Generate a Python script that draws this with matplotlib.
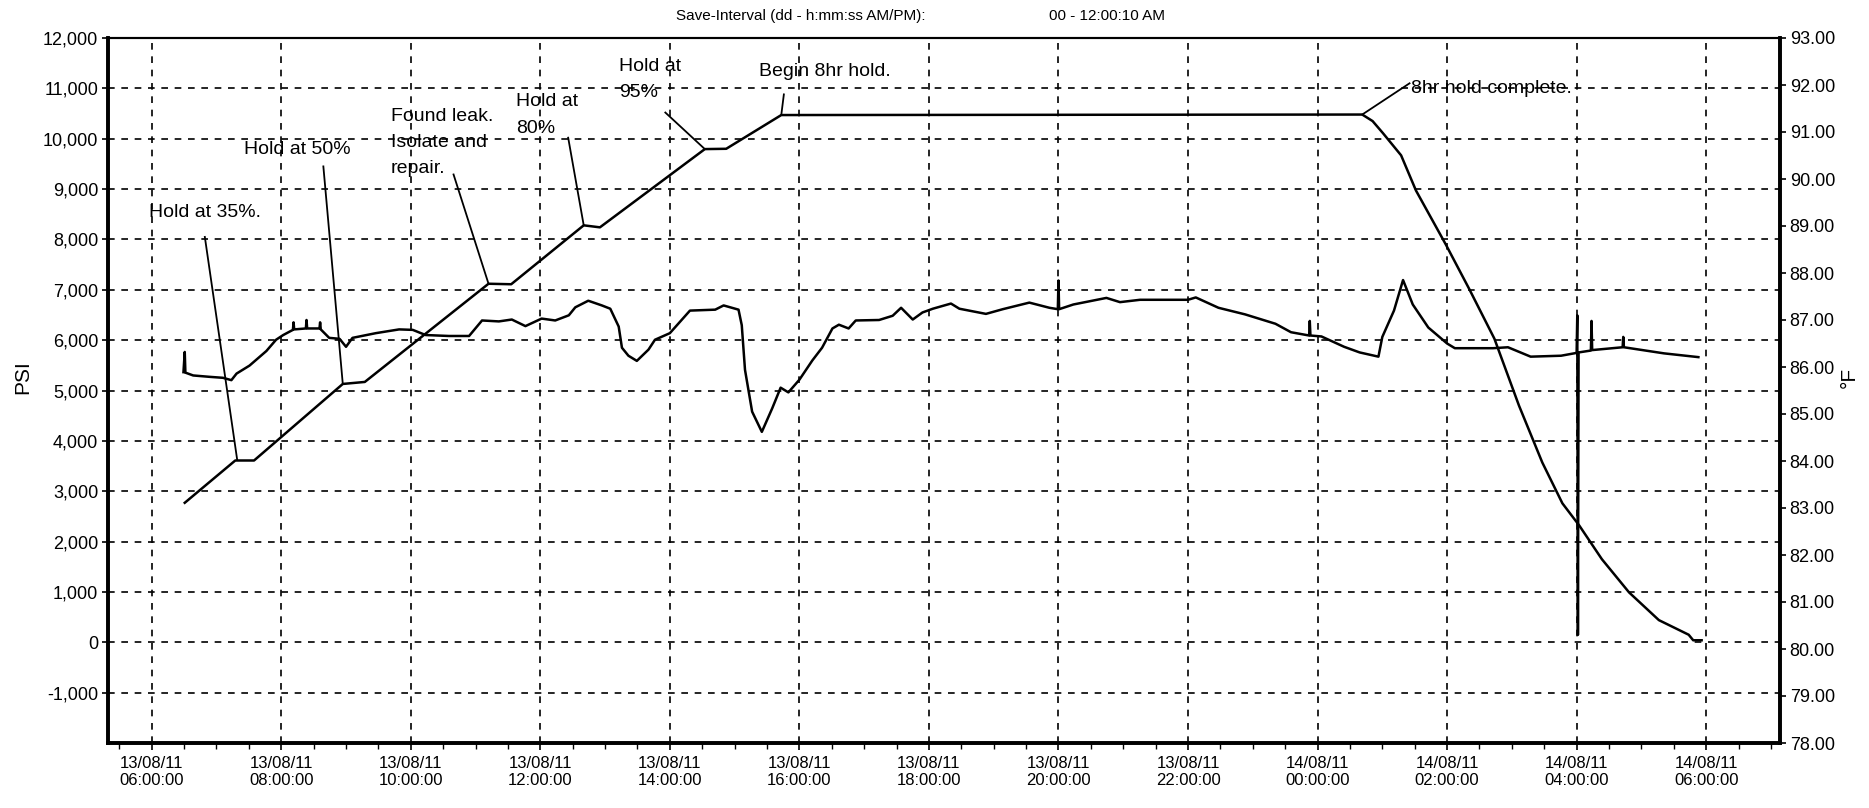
import matplotlib
matplotlib.use('Agg')
import matplotlib.pyplot as plt
from matplotlib.ticker import MultipleLocator

plt.rcParams['font.family'] = ['Liberation Sans', 'DejaVu Sans']

# hours counted from 13/08/11 00:00:00
psi_hr = [6.51, 7.29, 7.58, 8.95, 9.29, 11.20, 11.55, 12.67, 12.92, 14.54, 14.87,
          15.72, 24.69, 24.85, 25.01, 25.29, 25.52, 25.98, 26.34, 26.73, 27.11,
          27.47, 27.78, 28.04, 28.39, 28.81, 29.27, 29.73, 29.80, 29.93]
psi = [2770, 3610, 3610, 5130, 5170, 7120, 7110, 8280, 8240, 9794, 9800,
       10470, 10480, 10350, 10110, 9670, 8970, 7900, 7020, 6030, 4700,
       3570, 2760, 2320, 1650, 990, 440, 150, 40, 40]

temp_hr = [6.49, 6.51, 6.52, 6.64, 6.90, 7.10, 7.23, 7.31, 7.51, 7.77, 7.92, 8.03,
           8.18, 8.19, 8.20, 8.38, 8.39, 8.40, 8.59, 8.60, 8.61, 8.74, 8.90, 9.00,
           9.10, 9.46, 9.82, 10.03, 10.23, 10.59, 10.90, 11.10, 11.36, 11.56, 11.77,
           12.02, 12.23, 12.44, 12.54, 12.74, 12.95, 13.08, 13.21, 13.26, 13.36,
           13.49, 13.67, 13.77, 14.00, 14.31, 14.70, 14.83, 15.06, 15.11, 15.16,
           15.27, 15.42, 15.58, 15.71, 15.83, 16.00, 16.20, 16.35, 16.51, 16.61,
           16.76, 16.87, 17.23, 17.44, 17.57, 17.75, 17.90, 18.06, 18.34, 18.47,
           18.88, 19.14, 19.55, 19.86, 19.99, 20.00, 20.01, 20.23, 20.74, 20.95,
           21.26, 22.00, 22.12, 22.47, 22.88, 23.35, 23.59, 23.87, 23.88, 23.89,
           24.06, 24.41, 24.65, 24.94, 25.00, 25.18, 25.32, 25.47, 25.71, 26.00,
           26.12, 26.71, 26.94, 27.29, 27.76, 28.00, 28.01, 28.02, 28.03, 28.22,
           28.23, 28.24, 28.71, 28.72, 28.73, 29.35, 29.88]
temp_f = [85.89, 86.32, 85.88, 85.82, 85.79, 85.77, 85.72, 85.86, 86.03, 86.34, 86.58, 86.68,
          86.79, 86.95, 86.80, 86.82, 87.00, 86.82, 86.82, 86.95, 86.80, 86.62, 86.60, 86.43,
          86.62, 86.72, 86.80, 86.79, 86.68, 86.66, 86.66, 86.99, 86.97, 87.01, 86.87,
          87.03, 86.99, 87.10, 87.27, 87.41, 87.31, 87.24, 86.86, 86.41, 86.24,
          86.13, 86.37, 86.58, 86.72, 87.20, 87.22, 87.31, 87.22, 86.89, 85.94,
          85.05, 84.62, 85.12, 85.56, 85.46, 85.73, 86.14, 86.41, 86.82, 86.90,
          86.82, 86.99, 87.00, 87.09, 87.26, 87.01, 87.16, 87.24, 87.35, 87.24,
          87.13, 87.23, 87.37, 87.26, 87.23, 87.84, 87.23, 87.33, 87.47, 87.38,
          87.43, 87.43, 87.48, 87.26, 87.12, 86.92, 86.74, 86.67, 86.98, 86.67,
          86.65, 86.43, 86.31, 86.22, 86.64, 87.20, 87.85, 87.33, 86.84, 86.50,
          86.40, 86.40, 86.42, 86.22, 86.24, 86.30, 87.10, 80.30, 86.31, 86.35,
          86.98, 86.36, 86.42, 86.64, 86.42, 86.29, 86.21]

tick_hr = [6, 8, 10, 12, 14, 16, 18, 20, 22, 24, 26, 28, 30]
tick_lbl = ['13/08/11\n06:00:00', '13/08/11\n08:00:00', '13/08/11\n10:00:00',
            '13/08/11\n12:00:00', '13/08/11\n14:00:00', '13/08/11\n16:00:00',
            '13/08/11\n18:00:00', '13/08/11\n20:00:00', '13/08/11\n22:00:00',
            '14/08/11\n00:00:00', '14/08/11\n02:00:00', '14/08/11\n04:00:00',
            '14/08/11\n06:00:00']
psi_ticks = list(range(-1000, 12001, 1000))
temp_ticks = list(range(78, 94))

# text, text x/y, leader start x/y, leader end x/y
notes = [
    ('Hold at 35%.', 5.96, 8530, 6.82, 8050, 7.32, 3620),
    ('Hold at 50%', 7.43, 9787, 8.65, 9450, 8.95, 5130),
    ('Found leak.\nIsolate and\nrepair.', 9.69, 9920, 10.66, 9290, 11.20, 7120),
    ('Hold at\n80%', 11.63, 10470, 12.43, 10020, 12.67, 8280),
    ('Hold at\n95%', 13.21, 11170, 13.93, 10520, 14.54, 9794),
    ('Begin 8hr hold.', 15.38, 11330, 15.76, 10880, 15.72, 10470),
    ('8hr hold complete.', 25.44, 11000, 24.69, 10480, 25.42, 11100),
]

fig = plt.figure(figsize=(18.69, 8.08), dpi=100)
ax = fig.add_axes([108/1869, 1-743/808, (1780-108)/1869, (743-38)/808])
ax2 = ax.twinx()

ax.plot(psi_hr, psi, color='black', lw=1.8)
ax2.plot(temp_hr, temp_f, color='black', lw=1.8)

for txt, tx, ty, x0, y0, x1, y1 in notes:
    ax.text(tx, ty, txt, fontsize=14, va='center', ha='left', linespacing=1.7)
    ax.plot([x0, x1], [y0, y1], color='black', lw=1.3)

ax.set_xlim(5.325, 31.14)
ax.set_ylim(-2000, 12000)
ax2.set_ylim(78, 93)

ax.set_xticks(tick_hr)
ax.set_xticklabels(tick_lbl, fontsize=12)
ax.xaxis.set_minor_locator(MultipleLocator(0.5))
ax.set_yticks(psi_ticks)
ax.set_yticklabels(['{:,}'.format(v) for v in psi_ticks], fontsize=13)
ax2.set_yticks(temp_ticks)
ax2.set_yticklabels(['%.2f' % v for v in temp_ticks], fontsize=13)

ax.tick_params(axis='x', which='major', length=5, width=1.2, pad=4)
ax.tick_params(axis='x', which='minor', length=4, width=1.0)
ax.tick_params(axis='y', length=4, width=1.2, pad=3)
ax2.tick_params(axis='y', length=4, width=1.2, pad=3)

ax.grid(True, which='major', color='black', linestyle=(0, (4, 4)), lw=1.2)
ax.set_axisbelow(True)

for a in (ax, ax2):
    for side in ('left', 'bottom', 'right'):
        a.spines[side].set_linewidth(2.6)
    a.spines['top'].set_linewidth(1.5)

ax.set_ylabel('PSI', fontsize=15)
ax.yaxis.set_label_coords(-0.0455, 0.519)
ax2.set_ylabel('°F', fontsize=15, rotation=90)
ax2.yaxis.set_label_coords(1.036, 0.519)

fig.text(676/1869, 1-16/808, 'Save-Interval (dd - h:mm:ss AM/PM):', fontsize=11,
         va='center', ha='left')
fig.text(1049/1869, 1-16/808, '00 - 12:00:10 AM', fontsize=11, va='center', ha='left')

fig.savefig('out.png', dpi=100)
